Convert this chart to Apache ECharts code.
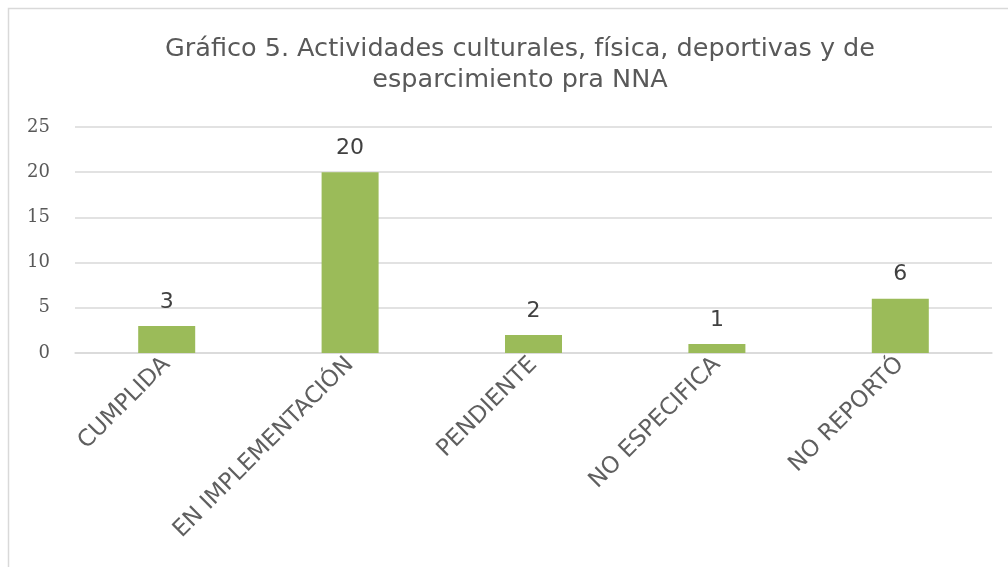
<!DOCTYPE html>
<html><head><meta charset="utf-8">
<script src="https://cdn.jsdelivr.net/npm/echarts@6/dist/echarts.min.js"></script>
<style>html,body{margin:0;padding:0;background:#fff}#c{width:1008px;height:567px}</style>
</head><body><div id="c"></div>
<script>
const categories = ['CUMPLIDA', 'EN IMPLEMENTACIÓN', 'PENDIENTE', 'NO ESPECIFICA', 'NO REPORTÓ'];
const values = [3, 20, 2, 1, 6];
const titleText = 'Gráfico 5. Actividades culturales, física, deportivas y de\nesparcimiento pra NNA';

const chart = echarts.init(document.getElementById('c'));
chart.setOption({
  animation: false,
  graphic: [{
    type: 'rect', shape: {x: 8.5, y: 8.5, width: 1100, height: 700},
    style: {fill: 'none', stroke: '#d9d9d9', lineWidth: 1.5}
  }],
  title: {
    text: titleText, left: 515, textAlign: 'center', top: 29,
    textStyle: {fontFamily: 'DejaVu Sans', fontWeight: 'normal', fontSize: 25.5, color: '#595959', lineHeight: 31}
  },
  grid: {left: 75, right: 16, top: 127, bottom: 214, containLabel: false},
  xAxis: {
    type: 'category', data: categories,
    axisLine: {lineStyle: {color: '#d9d9d9', width: 1.5}},
    axisTick: {show: false},
    axisLabel: {rotate: 45, interval: 0, margin: 8, fontFamily: 'DejaVu Sans', fontSize: 23, color: '#5f5f5f'}
  },
  yAxis: {
    type: 'value', min: 0, max: 25, interval: 5,
    axisLine: {show: false}, axisTick: {show: false},
    splitLine: {lineStyle: {color: '#d9d9d9', width: 1.5}},
    axisLabel: {margin: 25, fontFamily: 'DejaVu Serif', fontSize: 18, color: '#595959'}
  },
  series: [{
    type: 'bar', data: values, barWidth: 57,
    itemStyle: {color: '#9bbb59'},
    label: {show: true, position: 'top', distance: 13, fontFamily: 'DejaVu Sans', fontSize: 22, color: '#404040'}
  }]
});
</script></body></html>
